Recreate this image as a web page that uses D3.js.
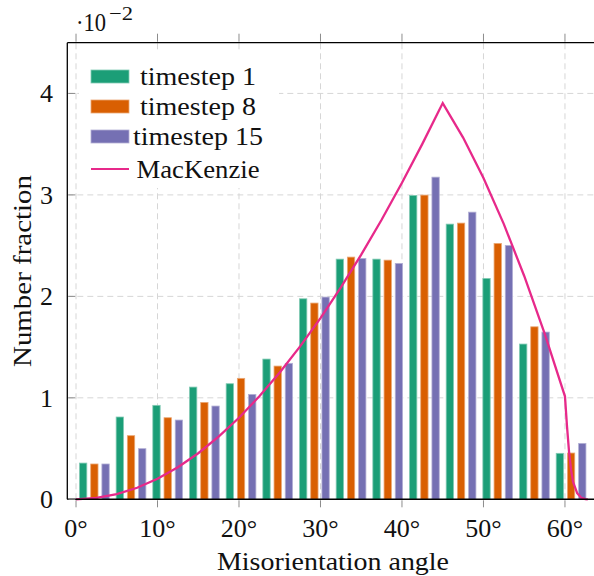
<!DOCTYPE html>
<html>
<head>
<meta charset="utf-8">
<script src="https://cdn.jsdelivr.net/npm/d3@7"></script>
<style>
    html, body { margin: 0; padding: 0; background: #fff; }
    svg text { font-family: "Liberation Serif", "DejaVu Serif", serif; fill: #111; }
</style>
</head>
<body>
<svg id="chart" width="594" height="576"></svg>
<script>
'use strict';

// bin centres of the misorientation histogram (degrees)
var binCenters = [2.25, 6.75, 11.25, 15.75, 20.25, 24.75, 29.25, 33.75, 38.25, 42.75, 47.25, 51.75, 56.25, 60.75];

// number fraction per bin
var timestep1 = [0.00357, 0.00811, 0.00926, 0.01106, 0.01139, 0.01382, 0.01976, 0.02367, 0.02367, 0.02995, 0.02712, 0.02177, 0.01530, 0.00453];
var timestep8 = [0.00348, 0.00627, 0.00804, 0.00955, 0.01192, 0.01313, 0.01934, 0.02387, 0.02357, 0.02998, 0.02722, 0.02522, 0.01700, 0.00456];
var timestep15 = [0.00348, 0.00499, 0.00781, 0.00919, 0.01034, 0.01340, 0.01993, 0.02374, 0.02325, 0.03175, 0.02830, 0.02502, 0.01648, 0.00551];

// MacKenzie reference curve
var mackAngles = [0, 2.5, 5, 7.5, 10, 12.5, 15, 17.5, 20, 22.5, 25, 27.5, 30, 32.5, 35, 37.5, 40, 42.5, 45,
    47.5, 50, 52.5, 55, 57.5, 60, 60.25, 60.5, 60.75, 61, 61.5, 62, 62.5, 62.8];
var mackValues = [0, 0.00013, 0.00051, 0.00114, 0.00203, 0.00316, 0.00454, 0.00617, 0.00804, 0.01015, 0.01249, 0.01507,
    0.01786, 0.02088, 0.02411, 0.02755, 0.03119, 0.03503, 0.03905, 0.03565, 0.03167, 0.02712, 0.02201, 0.01635, 0.01015,
    0.00720, 0.00470, 0.00290, 0.00170, 0.00060, 0.00015, 0.00002, 0];

var xTicks = [0, 10, 20, 30, 40, 50, 60];
var yTicks = [0, 0.01, 0.02, 0.03, 0.04];
var yTickLabels = ['0', '1', '2', '3', '4'];

var seriesNames = ['timestep 1', 'timestep 8', 'timestep 15'];
var lineName = 'MacKenzie';

(function () {
    var svg = d3.select('#chart');
    var left = 67.3;
    var right = 600;
    var top = 42.7;
    var bottom = 499.3;
    var colors = ['#1b9e77', '#d95f02', '#7570b3'];
    var lineColor = '#e7298a';
    var series = [timestep1, timestep8, timestep15];
    var barShift = [-1.375, 0, 1.375];
    var barWidth = 0.9;
    var gridColor = '#d6d6d6';
    var tickColor = '#8c8c8c';
    var legendWidths = [116, 116, 130];
    var x = d3.scaleLinear().domain([-1.07, 64.3]).range([left, right]);
    var y = d3.scaleLinear().domain([0, 0.045]).range([bottom, top]);
    var grid;
    var bars;
    var legend;
    var i;

    function lighter(c) {
        return d3.interpolateRgb(c, '#fff')(0.45);
    }

    // grid
    grid = svg.append('g').attr('class', 'grid');

    grid.selectAll('line.vgrid')
        .data(xTicks)
        .enter()
        .append('line')
        .attr('class', 'vgrid')
        .attr('x1', function (d) { return x(d); })
        .attr('x2', function (d) { return x(d); })
        .attr('y1', bottom)
        .attr('y2', top)
        .attr('stroke', gridColor)
        .attr('stroke-width', 1)
        .attr('stroke-dasharray', '6,4');

    grid.selectAll('line.hgrid')
        .data(yTicks.slice(1))
        .enter()
        .append('line')
        .attr('class', 'hgrid')
        .attr('x1', left)
        .attr('x2', right)
        .attr('y1', function (d) { return y(d); })
        .attr('y2', function (d) { return y(d); })
        .attr('stroke', gridColor)
        .attr('stroke-width', 1)
        .attr('stroke-dasharray', '6,4');

    // bars
    bars = svg.append('g').attr('class', 'bars');

    for (i = 0; i < series.length; i++) {
        bars.selectAll('rect.s' + i)
            .data(series[i])
            .enter()
            .append('rect')
            .attr('class', 's' + i)
            .attr('x', function (d, j) { return x(binCenters[j] + barShift[i] - barWidth / 2); })
            .attr('width', x(barWidth) - x(0))
            .attr('y', function (d) { return y(d); })
            .attr('height', function (d) { return bottom - y(d); })
            .attr('fill', colors[i])
            .attr('stroke', lighter(colors[i]))
            .attr('stroke-width', 0.8);
    }

    // MacKenzie line
    svg.append('path')
        .datum(mackAngles)
        .attr('fill', 'none')
        .attr('stroke', lineColor)
        .attr('stroke-width', 2.3)
        .attr('stroke-linejoin', 'miter')
        .attr('d', d3.line()
            .x(function (d) { return x(d); })
            .y(function (d, j) { return y(mackValues[j]); }));

    // axis frame
    svg.append('line')
        .attr('x1', left).attr('x2', right)
        .attr('y1', bottom).attr('y2', bottom)
        .attr('stroke', '#000').attr('stroke-width', 1.5);
    svg.append('line')
        .attr('x1', left).attr('x2', right)
        .attr('y1', top).attr('y2', top)
        .attr('stroke', '#000').attr('stroke-width', 1.3);
    svg.append('line')
        .attr('x1', left).attr('x2', left)
        .attr('y1', top).attr('y2', bottom)
        .attr('stroke', '#000').attr('stroke-width', 1.3);

    // x ticks, top and bottom, pointing out
    svg.selectAll('line.xtickb')
        .data(xTicks)
        .enter()
        .append('line')
        .attr('x1', function (d) { return x(d); })
        .attr('x2', function (d) { return x(d); })
        .attr('y1', bottom + 1)
        .attr('y2', bottom + 8)
        .attr('stroke', tickColor)
        .attr('stroke-width', 1);
    svg.selectAll('line.xtickt')
        .data(xTicks)
        .enter()
        .append('line')
        .attr('x1', function (d) { return x(d); })
        .attr('x2', function (d) { return x(d); })
        .attr('y1', top - 1)
        .attr('y2', top - 9)
        .attr('stroke', tickColor)
        .attr('stroke-width', 1);

    // y ticks, pointing in
    svg.selectAll('line.ytick')
        .data(yTicks)
        .enter()
        .append('line')
        .attr('x1', left + 1)
        .attr('x2', left + 8)
        .attr('y1', function (d) { return y(d); })
        .attr('y2', function (d) { return y(d); })
        .attr('stroke', tickColor)
        .attr('stroke-width', 1);

    svg.selectAll('text.xlabel')
        .data(xTicks)
        .enter()
        .append('text')
        .attr('x', function (d) { return x(d); })
        .attr('y', 537)
        .attr('text-anchor', 'middle')
        .attr('font-size', 26)
        .text(function (d) { return d + '°'; });

    svg.selectAll('text.ylabel')
        .data(yTicks)
        .enter()
        .append('text')
        .attr('x', 53)
        .attr('y', function (d) { return y(d) + 9; })
        .attr('text-anchor', 'end')
        .attr('font-size', 26)
        .text(function (d, j) { return yTickLabels[j]; });

    // scale label
    svg.append('text')
        .attr('x', 76)
        .attr('y', 31)
        .attr('font-size', 26)
        .attr('textLength', 30)
        .attr('lengthAdjust', 'spacingAndGlyphs')
        .text('·10');
    svg.append('text')
        .attr('x', 109)
        .attr('y', 20)
        .attr('font-size', 19)
        .attr('textLength', 24)
        .attr('lengthAdjust', 'spacingAndGlyphs')
        .text('−2');

    // axis titles
    svg.append('text')
        .attr('x', 333)
        .attr('y', 570)
        .attr('text-anchor', 'middle')
        .attr('font-size', 26)
        .attr('textLength', 232)
        .attr('lengthAdjust', 'spacingAndGlyphs')
        .text('Misorientation angle');

    svg.append('text')
        .attr('transform', 'translate(31,271) rotate(-90)')
        .attr('text-anchor', 'middle')
        .attr('font-size', 26)
        .attr('textLength', 192)
        .attr('lengthAdjust', 'spacingAndGlyphs')
        .text('Number fraction');

    // legend
    legend = svg.append('g').attr('class', 'legend');

    legend.append('rect')
        .attr('x', 79)
        .attr('y', 50)
        .attr('width', 200)
        .attr('height', 138)
        .attr('fill', '#fff');

    for (i = 0; i < seriesNames.length; i++) {
        legend.append('rect')
            .attr('x', 91)
            .attr('y', 70 + i * 30)
            .attr('width', 38)
            .attr('height', 13)
            .attr('fill', colors[i])
            .attr('stroke', lighter(colors[i]))
            .attr('stroke-width', 0.8);
        legend.append('text')
            .attr('x', 198)
            .attr('y', 85 + i * 30)
            .attr('text-anchor', 'middle')
            .attr('font-size', 25)
            .attr('textLength', legendWidths[i])
            .attr('lengthAdjust', 'spacingAndGlyphs')
            .text(seriesNames[i]);
    }

    legend.append('line')
        .attr('x1', 91)
        .attr('x2', 129)
        .attr('y1', 169)
        .attr('y2', 169)
        .attr('stroke', lineColor)
        .attr('stroke-width', 2);
    legend.append('text')
        .attr('x', 198)
        .attr('y', 178)
        .attr('text-anchor', 'middle')
        .attr('font-size', 25)
        .attr('textLength', 123)
        .attr('lengthAdjust', 'spacingAndGlyphs')
        .text(lineName);
})();
</script>
</body>
</html>
